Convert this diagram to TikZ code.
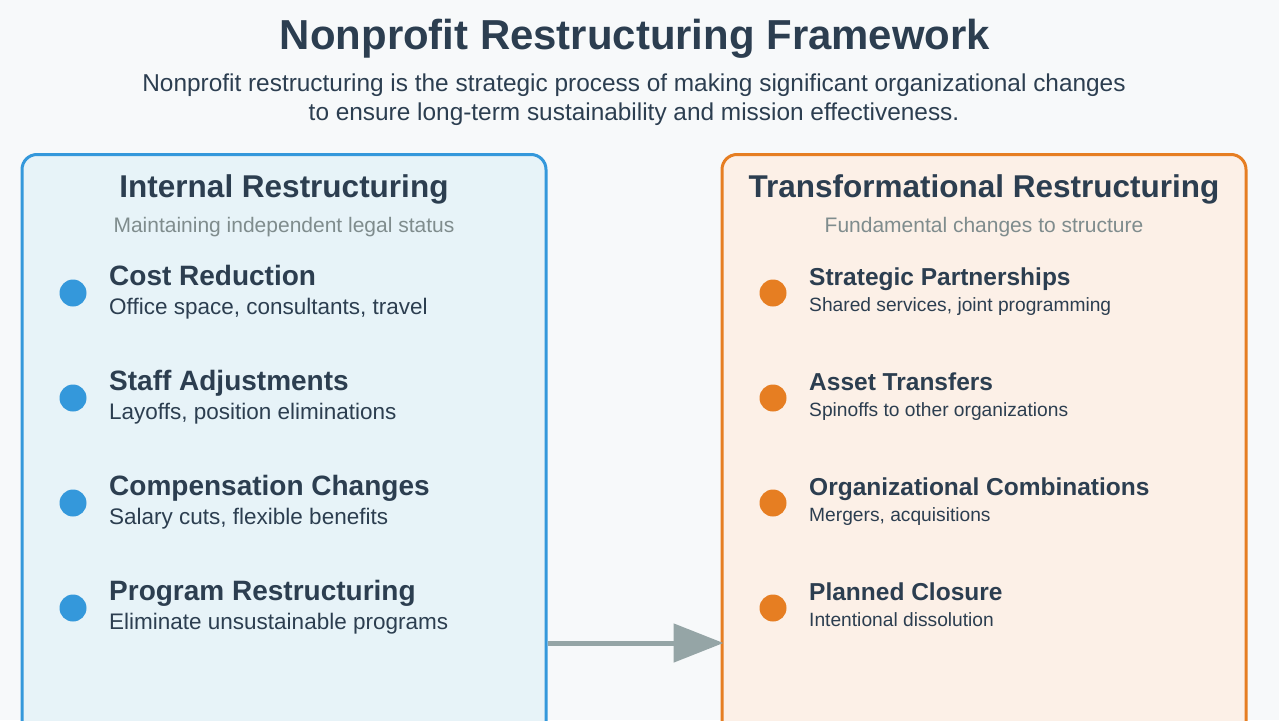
\documentclass[tikz,border=0pt]{standalone}
\usepackage{fontspec}
\setmainfont{Liberation Sans}
\usepackage{xcolor}
\usetikzlibrary{positioning}
\usetikzlibrary{arrows.meta}
\definecolor{pagebg}{HTML}{F7F9FA}
\definecolor{inkdark}{HTML}{2C3E50}
\definecolor{inkgrey}{HTML}{7F8C8D}
\definecolor{intblue}{HTML}{3498DB}
\definecolor{intfill}{HTML}{E7F3F8}
\definecolor{trorange}{HTML}{E67E22}
\definecolor{trfill}{HTML}{FCF0E7}
\definecolor{arrowgrey}{HTML}{95A5A6}
\tikzset{
  panel/.style={draw, rounded corners=15pt, line width=3pt, minimum width=524pt,
    minimum height=640pt, anchor=north, inner sep=0pt},
  paneltitle/.style={text=inkdark, font=\fontsize{31.5}{36}\selectfont\bfseries, anchor=base, inner sep=0pt},
  panelsub/.style={text=inkgrey, font=\fontsize{21}{25}\selectfont, anchor=base, inner sep=0pt},
  bullet/.style={circle, minimum size=27pt, inner sep=0pt},
  ihead/.style={text=inkdark, font=\fontsize{28}{32}\selectfont\bfseries, anchor=base west, inner sep=0pt},
  idesc/.style={text=inkdark, font=\fontsize{22.5}{26}\selectfont, inner sep=0pt},
  thead/.style={text=inkdark, font=\fontsize{24.5}{28}\selectfont\bfseries, anchor=base west, inner sep=0pt},
  tdesc/.style={text=inkdark, font=\fontsize{19.2}{23}\selectfont, inner sep=0pt},
  flow/.style={draw=arrowgrey, line width=5pt, -{Triangle[length=50pt, width=38pt]}},
}

\begin{document}
\begin{tikzpicture}[x=1pt, y=-1pt]

  \useasboundingbox[fill=pagebg] (0,0) rectangle (1279,720);

  % Heading
  \node[text=inkdark, font=\fontsize{41.9}{46}\selectfont\bfseries, anchor=base, inner sep=0pt]
    (title) at (635,49) {Nonprofit Restructuring Framework};
  \node[text=inkdark, font=\fontsize{24.4}{29}\selectfont, align=center, anchor=base, inner sep=0pt]
    (intro) at (634,120) {Nonprofit restructuring is the strategic process of making significant organizational changes\\
    to ensure long-term sustainability and mission effectiveness.};

  % Panels
  \node[panel, draw=intblue, fill=intfill] (int_box) at (284,153) {};
  \node[panel, draw=trorange, fill=trfill] (tr_box) at (984,153) {};

  \node[paneltitle] (int_title) at (284,197) {Internal Restructuring};
  \node[panelsub, below=35pt of int_title.base, anchor=base] (int_sub) {Maintaining independent legal status};

  \node[paneltitle] (tr_title) at (984,197) {Transformational Restructuring};
  \node[panelsub, below=35pt of tr_title.base, anchor=base] (tr_sub) {Fundamental changes to structure};

  % Internal items
  \node[bullet, fill=intblue] (cost_dot) at (73,293) {};
  \node[ihead] (cost_head) at (109,285) {Cost Reduction};
  \node[idesc, below=29pt of cost_head.base west, anchor=base west] (cost_desc) {Office space, consultants, travel};

  \node[bullet, fill=intblue] (staff_dot) at (73,398) {};
  \node[ihead] (staff_head) at (109,390) {Staff Adjustments};
  \node[idesc, below=29pt of staff_head.base west, anchor=base west] (staff_desc) {Layoffs, position eliminations};

  \node[bullet, fill=intblue] (comp_dot) at (73,503) {};
  \node[ihead] (comp_head) at (109,495) {Compensation Changes};
  \node[idesc, below=29pt of comp_head.base west, anchor=base west] (comp_desc) {Salary cuts, flexible benefits};

  \node[bullet, fill=intblue] (prog_dot) at (73,608) {};
  \node[ihead] (prog_head) at (109,600) {Program Restructuring};
  \node[idesc, below=29pt of prog_head.base west, anchor=base west] (prog_desc) {Eliminate unsustainable programs};

  % Transformational items
  \node[bullet, fill=trorange] (part_dot) at (773,293) {};
  \node[thead] (part_head) at (809,285) {Strategic Partnerships};
  \node[tdesc, below=26pt of part_head.base west, anchor=base west] (part_desc) {Shared services, joint programming};

  \node[bullet, fill=trorange] (asset_dot) at (773,398) {};
  \node[thead] (asset_head) at (809,390) {Asset Transfers};
  \node[tdesc, below=26pt of asset_head.base west, anchor=base west] (asset_desc) {Spinoffs to other organizations};

  \node[bullet, fill=trorange] (comb_dot) at (773,503) {};
  \node[thead] (comb_head) at (809,495) {Organizational Combinations};
  \node[tdesc, below=26pt of comb_head.base west, anchor=base west] (comb_desc) {Mergers, acquisitions};

  \node[bullet, fill=trorange] (close_dot) at (773,608) {};
  \node[thead] (close_head) at (809,600) {Planned Closure};
  \node[tdesc, below=26pt of close_head.base west, anchor=base west] (close_desc) {Intentional dissolution};

  % Connect panels
  \coordinate (flow_row) at (0,643);
  \draw[flow] (int_box.east |- flow_row) -- ([xshift=3pt]tr_box.west |- flow_row);

\end{tikzpicture}
\end{document}
